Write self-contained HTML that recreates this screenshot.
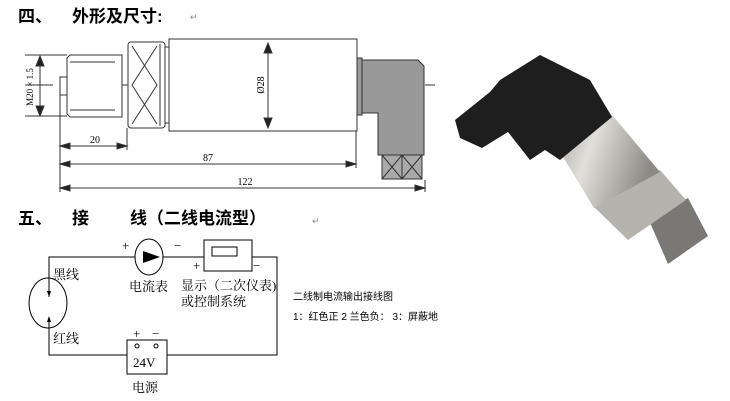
<!DOCTYPE html>
<html><head><meta charset="utf-8"><style>
html,body{margin:0;padding:0;background:#fff;width:730px;height:401px;overflow:hidden}
svg text{font-family:"Liberation Serif","Noto Serif CJK SC",serif}
svg .s, svg .s text{font-family:"Liberation Sans","Noto Sans CJK SC",sans-serif}
</style></head><body>
<svg width="730" height="401" viewBox="0 0 730 401" xmlns="http://www.w3.org/2000/svg">
<defs>
<linearGradient id="cy" x1="0" y1="0" x2="1" y2="0.3">
<stop offset="0" stop-color="#9a9892"/><stop offset="0.45" stop-color="#e0dfda"/><stop offset="1" stop-color="#8c8a85"/>
</linearGradient>
</defs>
<text x="18" y="22" class="s" font-size="17" font-weight="bold" fill="#000">四、</text>
<text x="72" y="22" class="s" font-size="17" font-weight="bold" fill="#000">外形及尺寸:</text>
<text x="190" y="20" class="s" font-size="9" fill="#888">↵</text>
<text x="18" y="224" class="s" font-size="17" font-weight="bold" fill="#000">五、</text>
<text x="72" y="224" class="s" font-size="17" font-weight="bold" fill="#000">接</text>
<text x="130" y="224" class="s" font-size="17" font-weight="bold" fill="#000">线（二线电流型）</text>
<text x="312" y="224" class="s" font-size="9" fill="#888">↵</text>
<g stroke="#333" stroke-width="1" fill="none">
<line x1="25" y1="85" x2="435" y2="85" stroke-dasharray="28,12"/>
<rect x="60" y="77" width="7" height="18" fill="#fff"/>
<path d="M67 58 L70 55 L122 55 L122 117 L70 117 L67 114 Z" fill="#fff"/>
<line x1="70" y1="62" x2="115" y2="62"/><line x1="70" y1="110" x2="115" y2="110"/>
<rect x="128" y="42" width="37" height="86" rx="3" fill="#fff"/>
<line x1="132" y1="46" x2="157" y2="85"/><line x1="157" y1="46" x2="132" y2="85"/>
<line x1="132" y1="85" x2="157" y2="124"/><line x1="157" y1="85" x2="132" y2="124"/>
<line x1="160" y1="44" x2="160" y2="126"/>
<rect x="165" y="47" width="4" height="76" fill="#fff"/>
<rect x="169" y="39" width="188" height="92" fill="#fff"/>
<line x1="268" y1="44" x2="268" y2="128"/>
<path d="M268 43 l-4 10 h8 z M268 128 l-4 -10 h8 z" fill="#222"/>
<line x1="40" y1="57" x2="40" y2="115"/>
<path d="M40 56 l-4 10 h8 z M40 116 l-4 -10 h8 z" fill="#222"/>
<line x1="25" y1="55" x2="67" y2="55"/><line x1="25" y1="116" x2="67" y2="116"/>
<rect x="357" y="58" width="5" height="57" fill="#999"/>
<path d="M362 60 L418 60 L424 66 L424 155 L378 155 L378 113 L362 113 Z" fill="#999"/>
<rect x="382" y="155" width="40" height="24" fill="#aaa"/>
<path d="M382 155 L402 179 M402 155 L382 179 M402 155 L422 179 M422 155 L402 179 M402 155 V179"/>
<line x1="60" y1="95" x2="60" y2="192"/><line x1="127" y1="128" x2="127" y2="150"/>
<line x1="356" y1="131" x2="356" y2="168"/><line x1="425" y1="180" x2="425" y2="192"/>
<line x1="60" y1="146" x2="127" y2="146"/><line x1="60" y1="164" x2="356" y2="164"/><line x1="60" y1="188" x2="425" y2="188"/>
<path d="M60 146 l10 -3 v6 z M127 146 l-10 -3 v6 z M60 164 l10 -3 v6 z M356 164 l-10 -3 v6 z M60 188 l10 -3 v6 z M425 188 l-10 -3 v6 z" fill="#222"/>
</g>
<text x="95" y="143" font-size="10" text-anchor="middle">20</text>
<text x="208" y="161" font-size="10" text-anchor="middle">87</text>
<text x="245" y="185" font-size="10" text-anchor="middle">122</text>
<text transform="translate(264,85) rotate(-90)" font-size="10" text-anchor="middle">Ø28</text>
<text transform="translate(33,87) rotate(-90)" font-size="9" text-anchor="middle">M20 × 1.5</text>
<g>
<polygon points="648,218 688,198 708,236 668,264" fill="#7a7874"/>
<polygon points="592,205 660,170 686,200 628,240" fill="#b5b3ad"/>
<polygon points="548,132 608,110 660,172 594,208" fill="url(#cy)"/>
<polygon points="455,120 490,92 500,80 540,55 590,80 612,117 560,160 545,150 530,160 508,132 482,148 460,138" fill="#1e1e1e"/>
</g>
<g stroke="#000" stroke-width="1" fill="none">
<path d="M49 297 V257 H135 M163 257 H204 M252 257 H277 V355 H167 M127 355 H49 V318"/>
<ellipse cx="48" cy="303" rx="19" ry="25"/>
<ellipse cx="149" cy="257" rx="14" ry="18"/>
<rect x="204" y="240" width="48" height="31" fill="#fff"/>
<rect x="212" y="247" width="25" height="9"/>
<rect x="127" y="340" width="40" height="34" fill="#fff"/>
<circle cx="137" cy="346" r="2"/><circle cx="156" cy="346" r="2"/>
</g>
<path d="M143 251 L160 257 L143 263 Z M49 297 l-2 -6 h4 z M49 316 l-2 6 h4 z" fill="#000"/>
<g font-size="13" fill="#000">
<text x="122" y="250">+</text><text x="174" y="250">−</text>
<text x="193" y="270">+</text><text x="253" y="270">−</text>
<text x="133" y="338">+</text><text x="152" y="338">−</text>
<text x="53" y="279">黑线</text><text x="53" y="343">红线</text>
<text x="129" y="291">电流表</text>
<text x="181" y="290">显示（二次仪表)</text>
<text x="181" y="306">或控制系统</text>
<text x="133" y="367">24V</text>
<text x="132" y="392">电源</text>
</g>
<g class="s" font-size="10" fill="#000">
<text x="293" y="300">二线制电流输出接线图</text>
<text x="293" y="320">1：红色正   2 兰色负：  3：屏蔽地</text>
</g>
</svg>
</body></html>
